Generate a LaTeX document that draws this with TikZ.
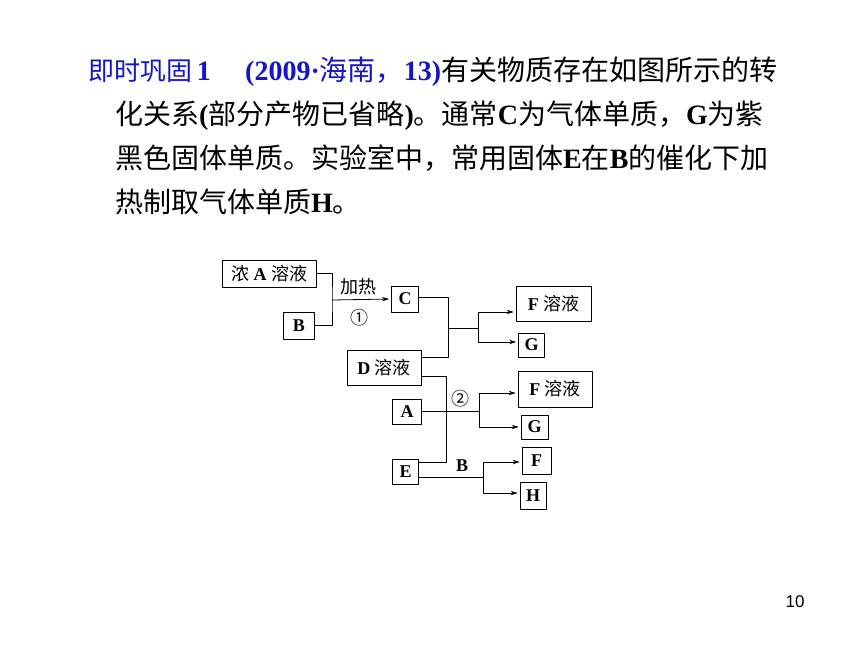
\documentclass[tikz,border=0pt]{standalone}
\usepackage{fontspec}
\setmainfont{Liberation Serif}
\newfontfamily\cjk{Noto Sans CJK SC}
\newfontfamily\arialfont{Liberation Sans}
\newcommand{\zh}[1]{{\cjk\mdseries #1}}
\usetikzlibrary{arrows.meta}
\definecolor{titleblue}{RGB}{20,20,200}

\begin{document}
\begin{tikzpicture}[line cap=round,line join=round,>={Stealth[length=7pt,width=4.5pt]},x=1pt,y=-1pt,
    box/.style={draw,line width=0.8pt,inner sep=0pt,font=\bfseries\fontsize{18}{18}\selectfont},
    lbl/.style={inner sep=0pt,font=\bfseries\fontsize{18}{18}\selectfont},
    txt/.style={anchor=base west,inner sep=0pt,font=\bfseries\fontsize{28}{28}\selectfont},
    conn/.style={line width=0.8pt},
    arr/.style={->,line width=0.8pt,shorten >=2pt}]
            \fill [white] (0,0) rectangle (860,645);
            \useasboundingbox (0,0) rectangle (860,645);

            % question text
            \node [txt,text=titleblue] (q1a) at (88,80) {{\fontsize{26}{26}\selectfont\zh{即时巩固}}\,1};
            \node [txt] (q1b) at (245,80) {\textcolor{titleblue}{(2009·\zh{海南，}13)}\zh{有关物质存在如图所示的转}};
            \node [txt] (q2) at (115,124) {\zh{化关系}(\zh{部分产物已省略})\zh{。通常}C\zh{为气体单质，}G\zh{为紫}};
            \node [txt] (q3) at (115,168) {\zh{黑色固体单质。实验室中，常用固体}E\zh{在}B\zh{的催化下加}};
            \node [txt] (q4) at (115,212) {\zh{热制取气体单质}H\zh{。}};

            % boxes
            \node [box,minimum width=94pt,minimum height=27pt] (nongA) at (269,273.5) {\zh{浓} A \zh{溶液}};
            \node [box,minimum width=31pt,minimum height=27pt] (B1) at (299,325.5) {B};
            \node [box,minimum width=27pt,minimum height=26pt] (C) at (405,299) {C};
            \node [box,minimum width=74pt,minimum height=35pt] (D) at (384,367.5) {D \zh{溶液}};
            \node [box,minimum width=75pt,minimum height=35pt] (F1) at (553.5,303.5) {F \zh{溶液}};
            \node [box,minimum width=26pt,minimum height=24pt] (G1) at (531.5,345) {G};
            \node [box,minimum width=29pt,minimum height=25pt] (A2) at (407,411.5) {A};
            \node [box,minimum width=74pt,minimum height=36pt] (F2) at (555,389) {F \zh{溶液}};
            \node [box,minimum width=27pt,minimum height=24pt] (G2) at (534.5,427) {G};
            \node [box,minimum width=26pt,minimum height=25pt] (E) at (405.5,471.5) {E};
            \node [box,minimum width=29pt,minimum height=27pt] (F3) at (536.5,460.5) {F};
            \node [box,minimum width=26pt,minimum height=27pt] (H) at (533,495.5) {H};

            % reaction 1
            \coordinate (j1) at (332,300);
            \draw [conn] (nongA.east) -| (j1) |- (B1.east);
            \draw [arr] (j1) -- (C.west);
            \node [lbl] (heat) at (358,287) {\zh{加热}};
            \node [lbl] (r1) at (359,318) {\zh{①}};

            % C + D
            \coordinate (j2) at (448,328);
            \coordinate (j3) at (478,328);
            \draw [conn] ([yshift=2pt]C.east) -| (j2);
            \draw [conn] ([yshift=10.5pt]D.east) -| (j2) -- (j3);
            \draw [arr] (j3) |- ([yshift=-8.5pt]F1.west);
            \draw [arr] (j3) |- ([yshift=3pt]G1.west);

            % reaction 2
            \coordinate (j4) at (446,462);
            \coordinate (j5) at (479,411.5);
            \draw [conn] ([yshift=-8.5pt]D.east) -| (j4) -- ([yshift=9.5pt]E.east);
            \draw [conn] (A2.east) -- (j5);
            \draw [arr] (j5) |- ([yshift=-4pt]F2.west);
            \draw [arr] (j5) |- (G2.west);
            \node [lbl] (r2) at (460,399) {\zh{②}};

            % E with B
            \coordinate (j6) at (483,477);
            \draw [conn] ([yshift=-5.5pt]E.east) -- (j6);
            \draw [arr] (j6) |- ([yshift=-1.5pt]F3.west);
            \draw [arr] (j6) |- ([yshift=2.5pt]H.west);
            \node [lbl] (cat) at (462,466) {B};

            \node [inner sep=0pt,font=\arialfont\fontsize{17}{17}\selectfont] (page) at (795,602) {10};
\end{tikzpicture}
\end{document}
